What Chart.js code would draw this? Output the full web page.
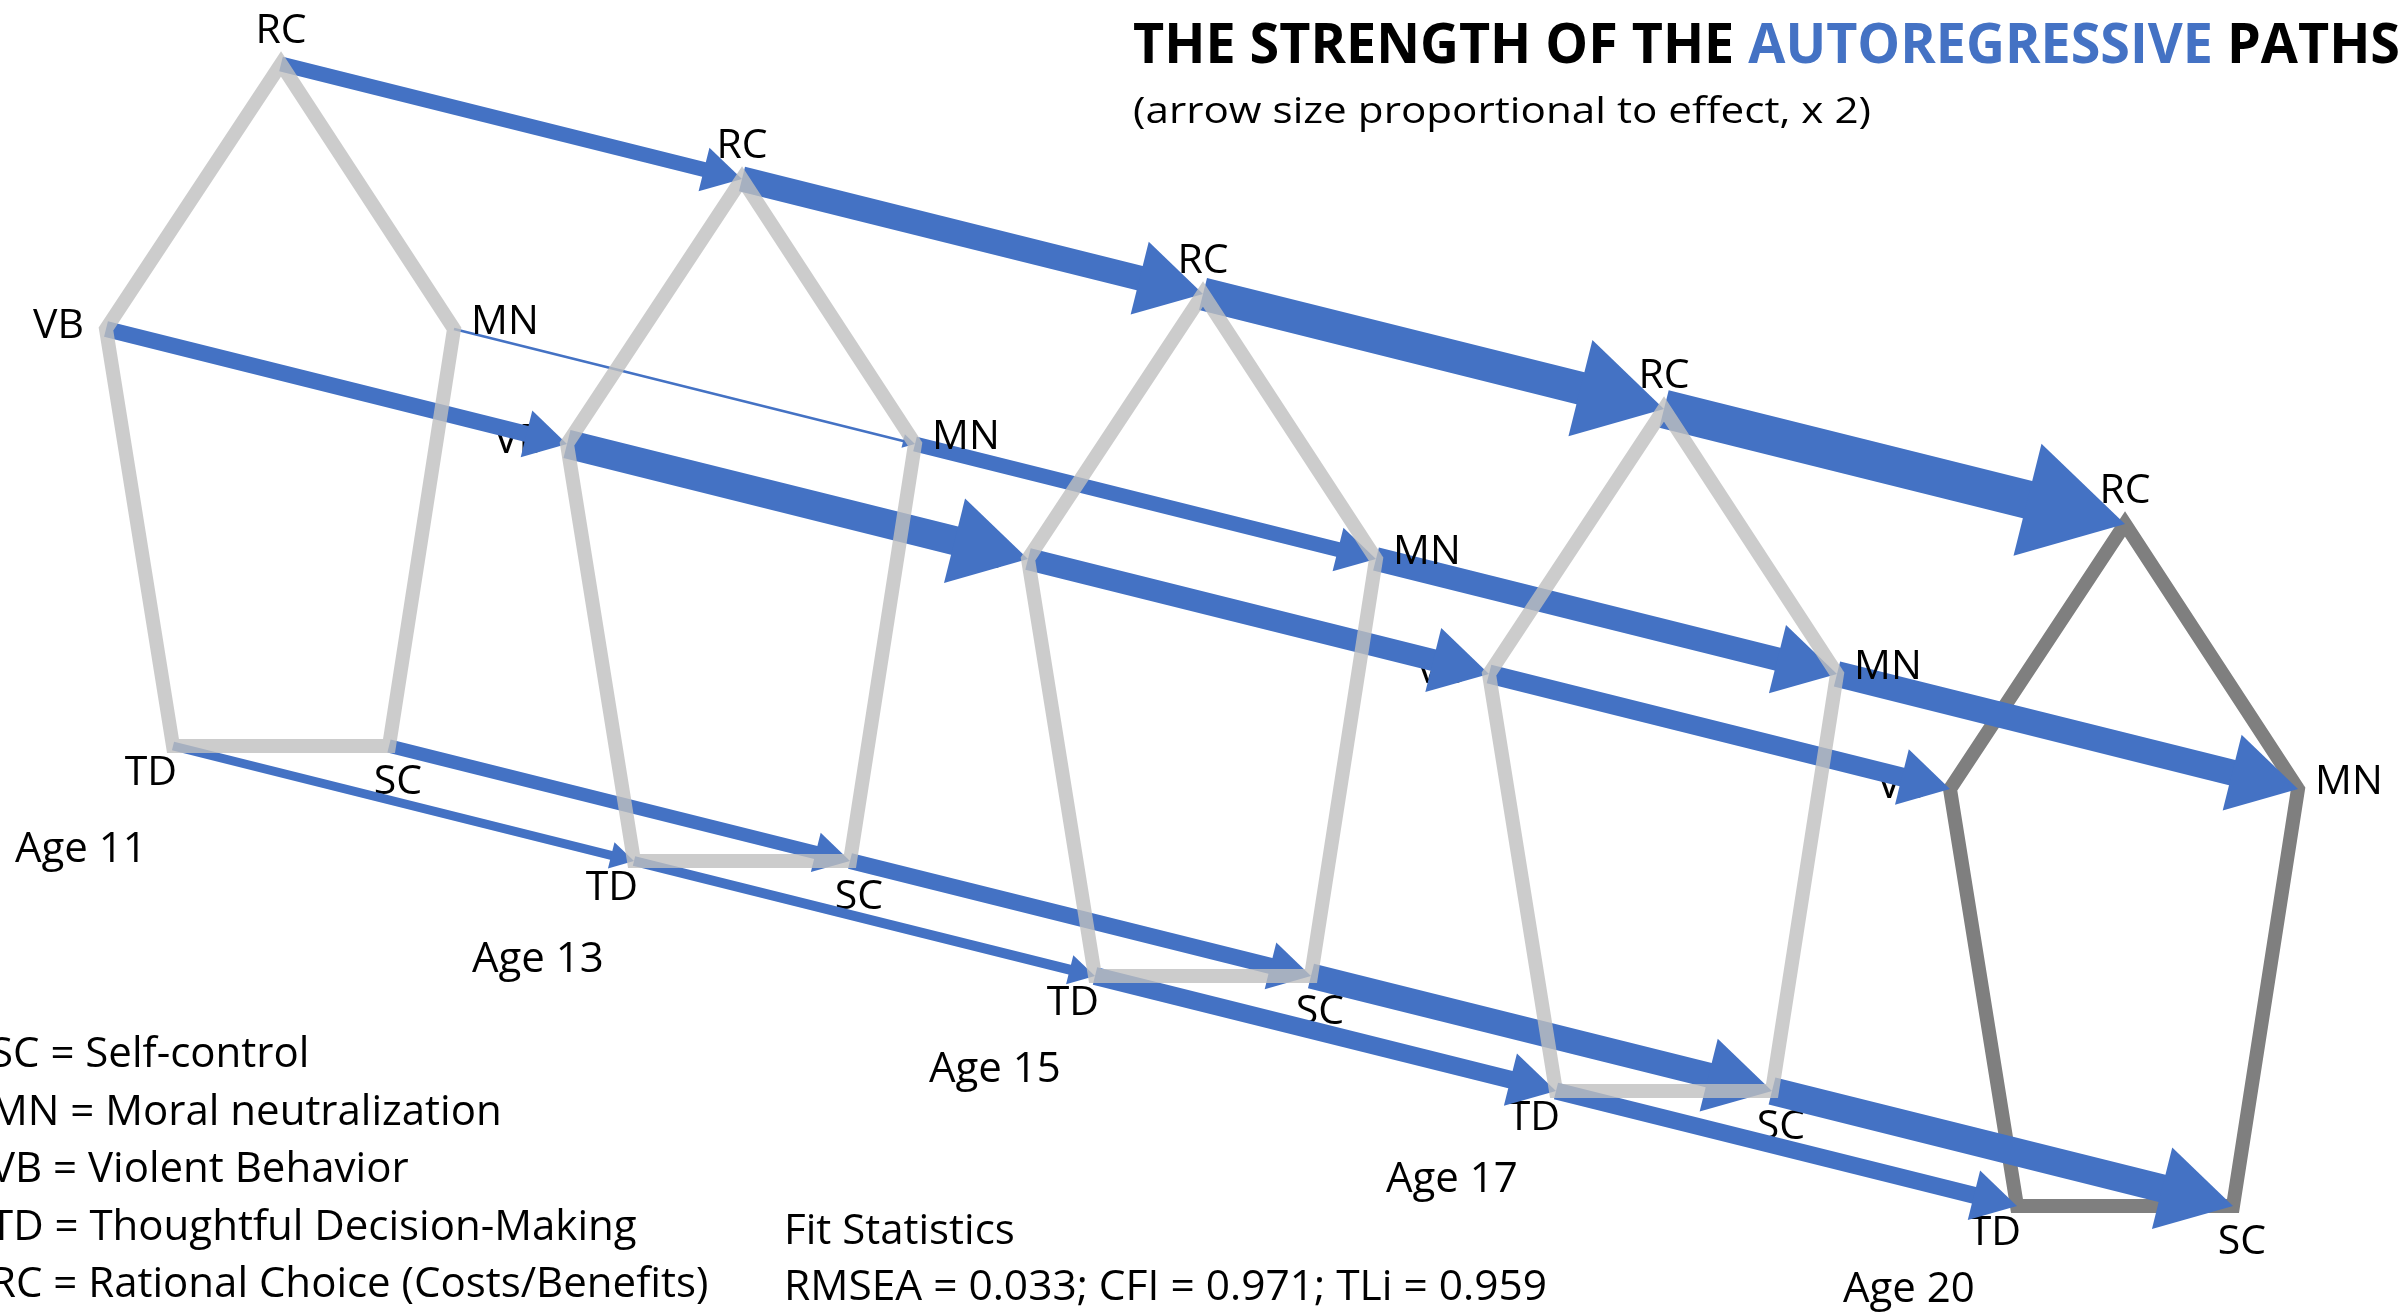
<!DOCTYPE html>
<html>
<head>
<meta charset="utf-8">
<script src="https://cdn.jsdelivr.net/npm/chart.js@4.4.1/dist/chart.umd.min.js"></script>
<style>
  html, body { margin: 0; padding: 0; background: #fff; overflow: hidden; }
  canvas { display: block; }
</style>
</head>
<body>
<canvas id="paths" width="2407" height="1312" style="width:2407px;height:1312px"></canvas>
<script>
// --- DATA ---
const ages = [11, 13, 15, 17, 20];
const constructs = ['RC', 'MN', 'SC', 'TD', 'VB'];
// pentagon of the first wave (diagram units), every later wave is shifted by waveStep
const nodeX = [281, 454, 389, 173, 106];
const nodeY = [64, 329, 746, 746, 329];
const waveStep = [461, 115];
// autoregressive effects: 11->13, 13->15, 15->17, 17->20
const effRC = [0.30, 0.50, 0.66, 0.77];
const effMN = [0.05, 0.30, 0.47, 0.52];
const effSC = [0.27, 0.32, 0.50, 0.56];
const effTD = [0.18, 0.20, 0.36, 0.34];
const effVB = [0.32, 0.58, 0.44, 0.38];
const legendLines = ['SC = Self-control', 'MN = Moral neutralization', 'VB = Violent Behavior',
  'TD = Thoughtful Decision-Making', 'RC = Rational Choice (Costs/Benefits)'];
const fitLines = ['Fit Statistics', 'RMSEA = 0.033; CFI = 0.971; TLi = 0.959'];
const titleParts = ['THE STRENGTH OF THE ', 'AUTOREGRESSIVE', ' PATHS'];
const subtitle = '(arrow size proportional to effect, x 2)';

const effects = [effRC, effMN, effSC, effTD, effVB];
const BLUE = '#4472C4';
const FONT = '"Open Sans", "Noto Sans", sans-serif';
const ARROW_PX = 50; // px of shaft per unit of effect

const pos = (wave, k) => ({ x: nodeX[k] + waveStep[0] * wave, y: nodeY[k] + waveStep[1] * wave });

// --- DATASETS ---
const datasets = [];
ages.forEach((a, i) => {
    const last = i === ages.length - 1;
    // RC MN SC TD VB and round again so the apex gets a mitre join
    datasets.push({
        label: 'Age ' + a,
        data: [0, 1, 2, 3, 4, 0, 1].map(k => pos(i, k)),
        showLine: true,
        borderColor: last ? '#7f7f7f' : 'rgba(191,191,191,0.8)',
        borderWidth: 14,
        borderJoinStyle: 'miter',
        borderCapStyle: 'butt',
        pointRadius: 0,
        tension: 0,
        order: last ? 2 : 0
    });
});
constructs.forEach((c, k) => {
    effects[k].forEach((e, i) => {
        datasets.push({
            label: c + ' ' + ages[i] + '-' + ages[i + 1],
            data: [pos(i, k), pos(i + 1, k)],
            showLine: false,
            pointRadius: 0,
            arrow: true,
            effect: e,
            order: 1
        });
    });
});

function drawText(ctx, s, x, y, size, align, color, weight, fitW) {
    ctx.save();
    ctx.font = `${weight || 'normal'} ${size}px ${FONT}`;
    ctx.fillStyle = color || '#000';
    ctx.textBaseline = 'alphabetic';
    ctx.textAlign = align || 'left';
    const sx = fitW ? fitW / ctx.measureText(s).width : 1;
    ctx.translate(x, y);
    ctx.scale(sx, 1);
    ctx.fillText(s, 0, 0);
    ctx.restore();
}

function nodeLabels(chart, which) {
    const ctx = chart.ctx, sx = chart.scales.x, sy = chart.scales.y;
    ages.forEach((a, i) => {
        constructs.forEach((c, k) => {
            if (!which.includes(c)) return;
            const p = pos(i, k);
            const x = sx.getPixelForValue(p.x), y = sy.getPixelForValue(p.y);
            if (c === 'RC') drawText(ctx, c, x, y - 21, 41, 'center');
            if (c === 'MN') drawText(ctx, c, x + 17, y + 5, 41, 'left');
            if (c === 'VB') drawText(ctx, c, x - 22, y + 9, 41, 'right');
            if (c === 'TD') drawText(ctx, c, x + 4, y + 39, 41, 'right');
            if (c === 'SC') drawText(ctx, c, x + 9, y + 48, 41, 'center');
        });
    });
}

// texts under the arrows
const textPlugin = {
    id: 'texts',
    beforeDatasetsDraw(chart) {
        const ctx = chart.ctx, sx = chart.scales.x, sy = chart.scales.y;
        nodeLabels(chart, ['VB', 'TD', 'SC']);
        ages.forEach((a, i) => {
            drawText(ctx, 'Age ' + a, sx.getPixelForValue(15 + 457 * i), sy.getPixelForValue(862 + 110 * i), 42, 'left');
        });
        legendLines.forEach((s, i) => drawText(ctx, s, -10, 1067 + 57.5 * i, 42, 'left'));
        drawText(ctx, fitLines[0], 784, 1244, 42, 'left');
        drawText(ctx, fitLines[1], 784, 1300, 42, 'left', '#000', 'normal', 763);

        // title with the coloured middle word
        ctx.save();
        ctx.font = `bold 56px ${FONT}`;
        ctx.textBaseline = 'alphabetic';
        const full = ctx.measureText(titleParts.join('')).width;
        ctx.translate(1133, 63);
        ctx.scale(1267 / full, 1);
        let cx = 0;
        titleParts.forEach((s, i) => {
            ctx.fillStyle = i === 1 ? BLUE : '#000';
            ctx.fillText(s, cx, 0);
            cx += ctx.measureText(s).width;
        });
        ctx.restore();
        drawText(ctx, subtitle, 1133, 123, 36, 'left', '#000', 'normal', 738);
    },
    afterDatasetsDraw(chart) {
        nodeLabels(chart, ['RC', 'MN']);
    }
};

// block arrows, width proportional to the effect
const arrowPlugin = {
    id: 'arrows',
    afterDatasetDraw(chart, args) {
        const ds = chart.data.datasets[args.index];
        if (!ds.arrow) return;
        const p0 = args.meta.data[0], p1 = args.meta.data[1];
        const dx = p1.x - p0.x, dy = p1.y - p0.y, len = Math.hypot(dx, dy);
        const ux = dx / len, uy = dy / len, nx = -uy, ny = ux;
        const w = ds.effect * ARROW_PX;
        const hw = Math.max(3 * w, 14), hl = hw * 0.87;
        const bx = p1.x - ux * hl, by = p1.y - uy * hl;
        const ctx = chart.ctx;
        ctx.save();
        ctx.fillStyle = BLUE;
        ctx.beginPath();
        ctx.moveTo(p0.x + nx * w / 2, p0.y + ny * w / 2);
        ctx.lineTo(bx + ux + nx * w / 2, by + uy + ny * w / 2);
        ctx.lineTo(bx + ux - nx * w / 2, by + uy - ny * w / 2);
        ctx.lineTo(p0.x - nx * w / 2, p0.y - ny * w / 2);
        ctx.closePath();
        ctx.fill();
        ctx.beginPath();
        ctx.moveTo(p1.x, p1.y);
        ctx.lineTo(bx + nx * hw / 2, by + ny * hw / 2);
        ctx.lineTo(bx - nx * hw / 2, by - ny * hw / 2);
        ctx.closePath();
        ctx.fill();
        ctx.restore();
    }
};

new Chart(document.getElementById('paths'), {
    type: 'scatter',
    data: { datasets },
    options: {
        responsive: false,
        animation: false,
        layout: { padding: 0 },
        plugins: { legend: { display: false }, tooltip: { enabled: false } },
        scales: {
            x: { type: 'linear', min: 0, max: 2407, display: false },
            y: { type: 'linear', min: 0, max: 1312, reverse: true, display: false }
        }
    },
    plugins: [textPlugin, arrowPlugin]
});
</script>
</body>
</html>
